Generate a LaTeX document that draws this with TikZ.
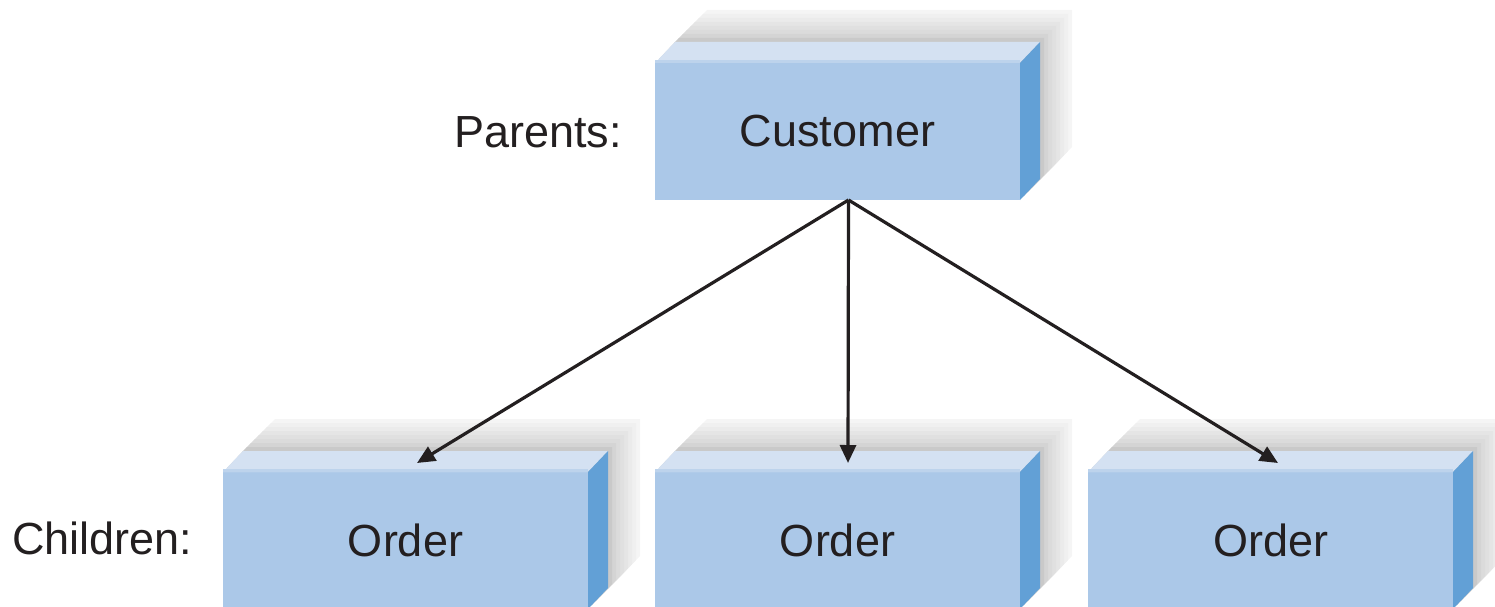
\documentclass[tikz,border=0pt]{standalone}
\usepackage{fontspec}
\setmainfont{Liberation Sans}
\usetikzlibrary{arrows.meta,backgrounds}
\definecolor{frontc}{HTML}{ABC8E8}
\definecolor{topc}{HTML}{D4E1F2}
\definecolor{edgec}{HTML}{BDD3EC}
\definecolor{sidec}{HTML}{62A0D6}
\definecolor{inkc}{HTML}{231F20}
\tikzset{
  prism/.style={minimum width=365pt,minimum height=137pt,inner sep=0pt,outer sep=0pt,
    fill=frontc,text=inkc,font=\fontsize{45}{50}\selectfont},
  lbl/.style={text=inkc,font=\fontsize{45}{50}\selectfont,inner sep=0pt},
  link/.style={line width=3.2pt,draw=inkc,-{Triangle[length=18pt,width=16pt]}},
}
\newcommand\prismbox[3]{%
  \node[prism] (#1) at (#2) {#3};
  \begin{scope}[on background layer]
    \foreach \k/\c in {8/4,7/6,6/8,5/10,4/12,3/14,2/17,1/21}{
      \fill[black!\c] ([shift={(4*\k,-4*\k)}]#1.south west)
        -- ([shift={(4*\k,-4*\k)}]#1.north west)
        -- ([shift={(20+4*\k,-21-4*\k)}]#1.north west)
        -- ([shift={(20+4*\k,-21-4*\k)}]#1.north east)
        -- ([shift={(20+4*\k,-21-4*\k)}]#1.south east)
        -- ([shift={(4*\k,-4*\k)}]#1.south east) -- cycle;
    }
  \end{scope}
  \fill[topc] (#1.north west) -- ([shift={(20,-21)}]#1.north west)
    -- ([shift={(20,-21)}]#1.north east) -- (#1.north east) -- cycle;
  \fill[edgec] (#1.north west) rectangle ([shift={(0,-3)}]#1.north east);
  \fill[sidec] (#1.north east) -- ([shift={(20,-21)}]#1.north east)
    -- ([shift={(20,-21)}]#1.south east) -- (#1.south east) -- cycle;
}
\begin{document}
\begin{tikzpicture}[x=1pt,y=-1pt]
\useasboundingbox (0,0) rectangle (1495,607);
\clip (0,0) rectangle (1495,607);
\prismbox{cust}{837.5,131.5}{Customer}
\prismbox{o1}{405.5,540.5}{Order}
\prismbox{o2}{837.5,540.5}{Order}
\prismbox{o3}{1270.5,540.5}{Order}
\node[lbl,anchor=east] (par) at (622,132) {Parents:};
\node[lbl,anchor=west] (chi) at (12,538) {Children:};
\coordinate (src) at ([xshift=11pt]cust.south);
\coordinate (t1) at (417,463);
\coordinate (t2) at (848,463);
\coordinate (t3) at (1278,463);
\draw[link] (src) -- (t1);
\draw[link] (src) -- (t2);
\draw[link] (src) -- (t3);
\end{tikzpicture}
\end{document}
